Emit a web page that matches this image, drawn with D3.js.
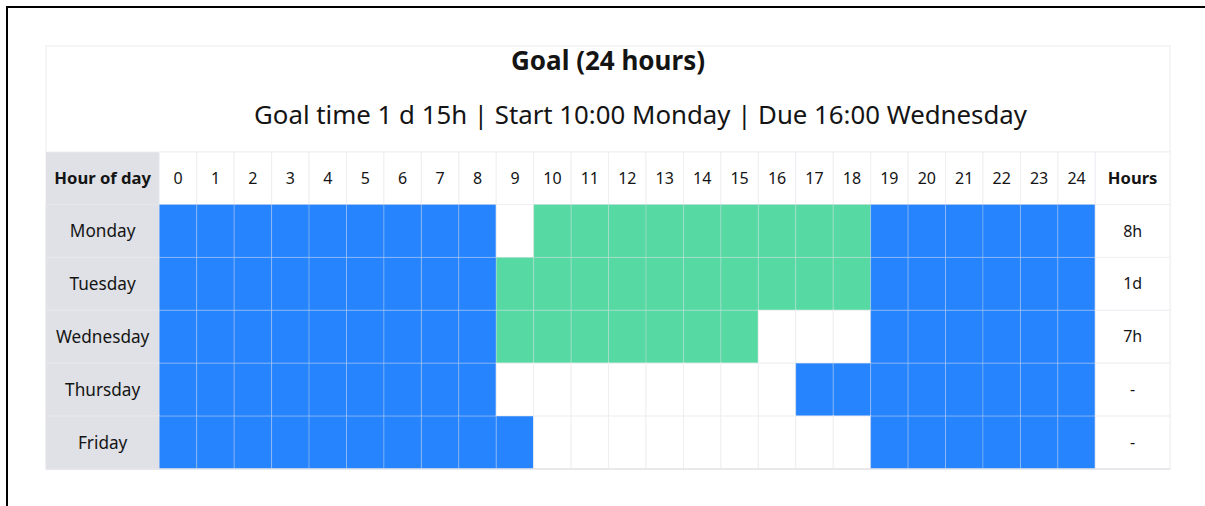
<!DOCTYPE html>
<html>
<head>
<meta charset="utf-8">
<script src="https://cdn.jsdelivr.net/npm/d3@7"></script>
<style>
  html, body { margin: 0; padding: 0; background: #fff; }
  svg { display: block; font-family: "Noto Sans", "Open Sans", sans-serif; }
</style>
</head>
<body>
<svg id="chart" width="1205" height="506"></svg>
<script>
// Working-hours calendar for a goal: each cell is one hour of one weekday.
const title = "Goal (24 hours)";
const subtitle = "Goal time 1 d 15h | Start 10:00 Monday | Due 16:00 Wednesday";
const days = ["Monday", "Tuesday", "Wednesday", "Thursday", "Friday"];
const hours = d3.range(0, 25);
// Cell state per hour: "off" = outside working hours, "goal" = counted toward goal, "open" = working hour not used
const monday    = ["off","off","off","off","off","off","off","off","off","open","goal","goal","goal","goal","goal","goal","goal","goal","goal","off","off","off","off","off","off"];
const tuesday   = ["off","off","off","off","off","off","off","off","off","goal","goal","goal","goal","goal","goal","goal","goal","goal","goal","off","off","off","off","off","off"];
const wednesday = ["off","off","off","off","off","off","off","off","off","goal","goal","goal","goal","goal","goal","goal","open","open","open","off","off","off","off","off","off"];
const thursday  = ["off","off","off","off","off","off","off","off","off","open","open","open","open","open","open","open","open","off","off","off","off","off","off","off","off"];
const friday    = ["off","off","off","off","off","off","off","off","off","off","open","open","open","open","open","open","open","open","open","off","off","off","off","off","off"];
const dayStates = [monday, tuesday, wednesday, thursday, friday];
const totals = ["8h", "1d", "7h", "-", "-"];

const colors = { off: "#2684FF", goal: "#57D9A3", open: "#FFFFFF" };
const gridLine = "rgba(222,224,230,0.3)";
const textColor = "#141414";

const svg = d3.select("#chart");

// Frame lines
svg.append("line").attr("x1", 6).attr("x2", 1205).attr("y1", 7).attr("y2", 7)
  .attr("stroke", "#000").attr("stroke-width", 2);
svg.append("line").attr("x1", 7).attr("x2", 7).attr("y1", 6).attr("y2", 506)
  .attr("stroke", "#000").attr("stroke-width", 2);

const table = { left: 46, right: 1170, top: 46, headTop: 152, bodyTop: 204.5, bottom: 469 };
const labelRight = 159.3, hoursRight = 1095.3;

const x = d3.scaleBand().domain(hours).range([labelRight, hoursRight]);
const y = d3.scaleBand().domain(days).range([table.bodyTop, table.bottom]);

// Title block
svg.append("rect").attr("x", table.left).attr("y", table.top)
  .attr("width", table.right - table.left).attr("height", table.bottom - table.top)
  .attr("fill", "#fff").attr("stroke", "#ebecf0").attr("stroke-width", 1);

svg.append("text").attr("x", 608).attr("y", 70).attr("text-anchor", "middle")
  .attr("font-size", 26).attr("font-weight", 700).attr("fill", textColor).text(title);
svg.append("text").attr("x", 640.5).attr("y", 124).attr("text-anchor", "middle")
  .attr("font-size", 25.8).attr("fill", textColor).text(subtitle);

// Header row
const head = svg.append("g");
head.append("rect").attr("x", table.left).attr("y", table.headTop)
  .attr("width", labelRight - table.left).attr("height", table.bodyTop - table.headTop)
  .attr("fill", "#DFE1E6");
head.append("line").attr("x1", table.left).attr("x2", table.right)
  .attr("y1", table.headTop).attr("y2", table.headTop).attr("stroke", "#ebecf0");
head.selectAll("rect.hcell").data(hours).join("rect")
  .attr("class", "hcell")
  .attr("x", d => x(d)).attr("y", table.headTop)
  .attr("width", x.bandwidth()).attr("height", table.bodyTop - table.headTop)
  .attr("fill", "#fff").attr("stroke", "#eeeff2");
head.append("rect").attr("x", hoursRight).attr("y", table.headTop)
  .attr("width", table.right - hoursRight).attr("height", table.bodyTop - table.headTop)
  .attr("fill", "#fff").attr("stroke", "#eeeff2");

const headY = (table.headTop + table.bodyTop) / 2;
head.append("text").attr("x", (table.left + labelRight) / 2).attr("y", headY)
  .attr("dy", "0.35em").attr("text-anchor", "middle")
  .attr("font-size", 16.6).attr("font-weight", 700).attr("fill", textColor).text("Hour of day");
head.selectAll("text.hlabel").data(hours).join("text")
  .attr("class", "hlabel")
  .attr("x", d => x(d) + x.bandwidth() / 2).attr("y", headY)
  .attr("dy", "0.35em").attr("text-anchor", "middle")
  .attr("font-size", 16).attr("fill", textColor).text(d => d);
head.append("text").attr("x", (hoursRight + table.right) / 2).attr("y", headY)
  .attr("dy", "0.35em").attr("text-anchor", "middle")
  .attr("font-size", 16.6).attr("font-weight", 700).attr("fill", textColor).text("Hours");

// Body rows
const rows = svg.append("g").selectAll("g.row")
  .data(days.map((day, i) => ({ day, states: dayStates[i], total: totals[i] })))
  .join("g").attr("class", "row");

rows.append("rect")
  .attr("x", table.left).attr("y", d => y(d.day))
  .attr("width", labelRight - table.left).attr("height", y.bandwidth())
  .attr("fill", "#DFE1E6").attr("stroke", "#e6e7eb");

rows.append("text")
  .attr("x", (table.left + labelRight) / 2).attr("y", d => y(d.day) + y.bandwidth() / 2)
  .attr("dy", "0.35em").attr("text-anchor", "middle")
  .attr("font-size", 17.2).attr("fill", textColor).text(d => d.day);

rows.selectAll("rect.cell")
  .data(d => d.states.map((s, h) => ({ day: d.day, hour: hours[h], state: s })))
  .join("rect").attr("class", "cell")
  .attr("x", d => x(d.hour)).attr("y", d => y(d.day))
  .attr("width", x.bandwidth()).attr("height", y.bandwidth())
  .attr("fill", d => colors[d.state])
  .attr("stroke", d => d.state === "open" ? "#efeff1" : gridLine)
  .attr("stroke-width", 1);

rows.append("rect")
  .attr("x", hoursRight).attr("y", d => y(d.day))
  .attr("width", table.right - hoursRight).attr("height", y.bandwidth())
  .attr("fill", "#fff").attr("stroke", "#eeeff2");

rows.append("text")
  .attr("x", (hoursRight + table.right) / 2).attr("y", d => y(d.day) + y.bandwidth() / 2)
  .attr("dy", "0.35em").attr("text-anchor", "middle")
  .attr("font-size", 16).attr("fill", textColor).text(d => d.total);

// Bottom edge of the table
svg.append("line").attr("x1", table.left).attr("x2", table.right)
  .attr("y1", table.bottom).attr("y2", table.bottom).attr("stroke", "#e4e5e9").attr("stroke-width", 1.5);
</script>
</body>
</html>
